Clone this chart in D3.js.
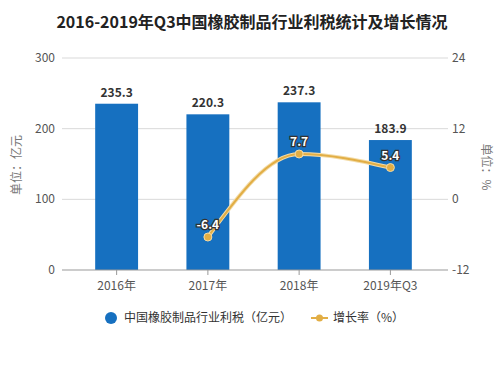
<!DOCTYPE html>
<html><head><meta charset="utf-8">
<script src="https://cdn.jsdelivr.net/npm/d3@7"></script>
<style>body{margin:0;background:#fff}svg{display:block}text{font-family:"Noto Sans CJK SC","Noto Sans",sans-serif}</style>
</head><body><svg id="c" width="504" height="370"></svg>
<script>
const categories = ["2016年","2017年","2018年","2019年Q3"];
const profitTax = [235.3,220.3,237.3,183.9];
const growth = [null,-6.4,7.7,5.4];
const leftTicks = [0,100,200,300];
const rightTicks = [-12,0,12,24];
const title = "2016-2019年Q3中国橡胶制品行业利税统计及增长情况";
const seriesNames = ["中国橡胶制品行业利税（亿元）","增长率（%）"];
const leftLabel = "单位：亿元", rightLabel = "单位：%";

const svg = d3.select("#c");
const barColor = "#1670c0", lineColor = "#e2ae45";
const x = d3.scaleBand().domain(categories).range([71,436]).paddingInner(0.53).paddingOuter(0.265);
const y = d3.scaleLinear().domain([0,300]).range([270,58]);
const y2 = d3.scaleLinear().domain([-12,24]).range([270,58]);

svg.append("text").attr("x",252).attr("y",28).attr("text-anchor","middle")
  .attr("font-size",16).attr("font-weight","bold").attr("fill","#222").text(title);

// gridlines
svg.append("g").selectAll("line").data(leftTicks.slice(1)).join("line")
  .attr("x1",62).attr("x2",448).attr("y1",d=>y(d)).attr("y2",d=>y(d))
  .attr("stroke","#d9d9d9").attr("stroke-width",1);

// left tick labels
svg.append("g").selectAll("text").data(leftTicks).join("text")
  .attr("x",55).attr("y",d=>y(d)+4).attr("text-anchor","end").attr("font-size",12).attr("fill","#555").text(d=>d);
svg.append("g").selectAll("text").data(rightTicks).join("text")
  .attr("x",452).attr("y",d=>y2(d)+4).attr("text-anchor","start").attr("font-size",12).attr("fill","#555").text(d=>d);

svg.append("text").attr("transform","translate(21,165) rotate(-90)").attr("text-anchor","middle")
  .attr("font-size",12).attr("fill","#777").text(leftLabel);
svg.append("text").attr("transform","translate(482,167) rotate(90)").attr("text-anchor","middle")
  .attr("font-size",12).attr("fill","#777").text(rightLabel);

// bars
svg.append("g").selectAll("rect").data(profitTax).join("rect")
  .attr("x",(d,i)=>x(categories[i])).attr("width",x.bandwidth())
  .attr("y",d=>y(d)).attr("height",d=>y(0)-y(d)).attr("fill",barColor);
svg.append("g").selectAll("text").data(profitTax).join("text")
  .attr("x",(d,i)=>x(categories[i])+x.bandwidth()/2).attr("y",d=>y(d)-7)
  .attr("text-anchor","middle").attr("font-size",12).attr("font-weight","bold").attr("fill","#333").text(d=>d.toFixed(1));

// x axis
const xa = svg.append("g").attr("transform","translate(0,270)");
xa.append("line").attr("x1",62).attr("x2",448).attr("stroke","#999");
xa.selectAll("line.t").data(categories).join("line").attr("class","t")
  .attr("x1",d=>x(d)+x.bandwidth()/2).attr("x2",d=>x(d)+x.bandwidth()/2).attr("y1",0).attr("y2",5).attr("stroke","#999");
xa.selectAll("text").data(categories).join("text")
  .attr("x",d=>x(d)+x.bandwidth()/2).attr("y",20).attr("text-anchor","middle").attr("font-size",12).attr("fill","#555").text(d=>d);

// line
const pts = growth.map((g,i)=>({g,c:categories[i]})).filter(d=>d.g!==null);
const line = d3.line().x(d=>x(d.c)+x.bandwidth()/2).y(d=>y2(d.g)).curve(d3.curveMonotoneX);
svg.append("path").datum(pts).attr("d",line).attr("fill","none").attr("stroke","#f3dca8").attr("stroke-width",4);
svg.append("path").datum(pts).attr("d",line).attr("fill","none").attr("stroke",lineColor).attr("stroke-width",2);
svg.append("g").selectAll("circle").data(pts).join("circle")
  .attr("cx",d=>x(d.c)+x.bandwidth()/2).attr("cy",d=>y2(d.g)).attr("r",4)
  .attr("fill",lineColor).attr("stroke","#f3dca8").attr("stroke-width",1);
svg.append("g").selectAll("text").data(pts).join("text")
  .attr("x",d=>x(d.c)+x.bandwidth()/2).attr("y",d=>y2(d.g)-8)
  .attr("text-anchor","middle").attr("font-size",12).attr("font-weight","bold")
  .attr("fill","#fff").attr("stroke","#333").attr("stroke-width",2.5).attr("paint-order","stroke")
  .text(d=>d.g.toFixed(1));

// legend
const lg = svg.append("g");
lg.append("circle").attr("cx",111).attr("cy",318).attr("r",6).attr("fill",barColor);
lg.append("text").attr("x",124).attr("y",322).attr("font-size",12).attr("fill","#333").text(seriesNames[0]);
lg.append("line").attr("x1",311).attr("x2",328).attr("y1",318).attr("y2",318).attr("stroke",lineColor).attr("stroke-width",2);
lg.append("circle").attr("cx",319.5).attr("cy",318).attr("r",3.5).attr("fill",lineColor);
lg.append("text").attr("x",333).attr("y",322).attr("font-size",12).attr("fill","#333").text(seriesNames[1]);
</script></body></html>
